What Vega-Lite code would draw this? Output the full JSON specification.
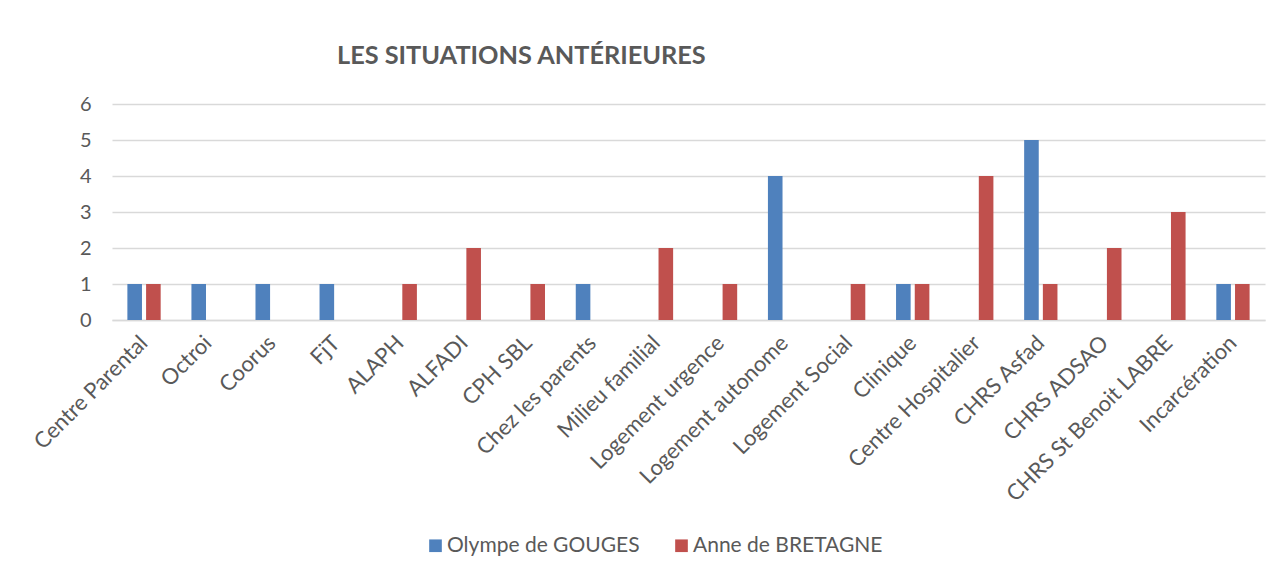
{
  "$schema": "https://vega.github.io/schema/vega-lite/v6.json",
  "autosize": {"type": "none"},
  "width": 1153,
  "height": 216,
  "padding": {"left": 112, "top": 104, "right": 16, "bottom": 255},
  "background": "white",
  "title": {
    "text": "LES SITUATIONS ANTÉRIEURES",
    "anchor": "start",
    "frame": "group",
    "dx": 225,
    "offset": 5,
    "baseline": "alphabetic",
    "font": "Lato",
    "fontSize": 25.3,
    "fontWeight": "bold",
    "color": "#595959"
  },
  "data": {
    "values": [
      {"cat": "Centre Parental", "serie": "Olympe de GOUGES", "n": 1},
      {"cat": "Centre Parental", "serie": "Anne de BRETAGNE", "n": 1},
      {"cat": "Octroi", "serie": "Olympe de GOUGES", "n": 1},
      {"cat": "Octroi", "serie": "Anne de BRETAGNE", "n": 0},
      {"cat": "Coorus", "serie": "Olympe de GOUGES", "n": 1},
      {"cat": "Coorus", "serie": "Anne de BRETAGNE", "n": 0},
      {"cat": "FjT", "serie": "Olympe de GOUGES", "n": 1},
      {"cat": "FjT", "serie": "Anne de BRETAGNE", "n": 0},
      {"cat": "ALAPH", "serie": "Olympe de GOUGES", "n": 0},
      {"cat": "ALAPH", "serie": "Anne de BRETAGNE", "n": 1},
      {"cat": "ALFADI", "serie": "Olympe de GOUGES", "n": 0},
      {"cat": "ALFADI", "serie": "Anne de BRETAGNE", "n": 2},
      {"cat": "CPH SBL", "serie": "Olympe de GOUGES", "n": 0},
      {"cat": "CPH SBL", "serie": "Anne de BRETAGNE", "n": 1},
      {"cat": "Chez les parents", "serie": "Olympe de GOUGES", "n": 1},
      {"cat": "Chez les parents", "serie": "Anne de BRETAGNE", "n": 0},
      {"cat": "Milieu familial", "serie": "Olympe de GOUGES", "n": 0},
      {"cat": "Milieu familial", "serie": "Anne de BRETAGNE", "n": 2},
      {"cat": "Logement urgence", "serie": "Olympe de GOUGES", "n": 0},
      {"cat": "Logement urgence", "serie": "Anne de BRETAGNE", "n": 1},
      {"cat": "Logement autonome", "serie": "Olympe de GOUGES", "n": 4},
      {"cat": "Logement autonome", "serie": "Anne de BRETAGNE", "n": 0},
      {"cat": "Logement Social", "serie": "Olympe de GOUGES", "n": 0},
      {"cat": "Logement Social", "serie": "Anne de BRETAGNE", "n": 1},
      {"cat": "Clinique", "serie": "Olympe de GOUGES", "n": 1},
      {"cat": "Clinique", "serie": "Anne de BRETAGNE", "n": 1},
      {"cat": "Centre Hospitalier", "serie": "Olympe de GOUGES", "n": 0},
      {"cat": "Centre Hospitalier", "serie": "Anne de BRETAGNE", "n": 4},
      {"cat": "CHRS Asfad", "serie": "Olympe de GOUGES", "n": 5},
      {"cat": "CHRS Asfad", "serie": "Anne de BRETAGNE", "n": 1},
      {"cat": "CHRS ADSAO", "serie": "Olympe de GOUGES", "n": 0},
      {"cat": "CHRS ADSAO", "serie": "Anne de BRETAGNE", "n": 2},
      {"cat": "CHRS St Benoit LABRE", "serie": "Olympe de GOUGES", "n": 0},
      {"cat": "CHRS St Benoit LABRE", "serie": "Anne de BRETAGNE", "n": 3},
      {"cat": "Incarcération", "serie": "Olympe de GOUGES", "n": 1},
      {"cat": "Incarcération", "serie": "Anne de BRETAGNE", "n": 1}
    ]
  },
  "mark": {"type": "bar"},
  "encoding": {
    "x": {
      "field": "cat",
      "type": "nominal",
      "sort": null,
      "scale": {"paddingInner": 0.48, "paddingOuter": 0.24},
      "axis": {
        "title": null,
        "labelAngle": -45,
        "labelAlign": "right",
        "labelBaseline": "middle",
        "labelFont": "Lato",
        "labelFontSize": 22,
        "labelColor": "#595959",
        "labelPadding": 19,
        "ticks": false,
        "domainColor": "#d9d9d9",
        "domainWidth": 1.5,
        "labelOverlap": false,
        "labelLimit": 400
      }
    },
    "xOffset": {
      "field": "serie",
      "type": "nominal",
      "sort": ["Olympe de GOUGES", "Anne de BRETAGNE"],
      "scale": {"paddingInner": 0.22}
    },
    "y": {
      "field": "n",
      "type": "quantitative",
      "scale": {"domain": [0, 6]},
      "axis": {
        "title": null,
        "values": [0, 1, 2, 3, 4, 5, 6],
        "domain": false,
        "ticks": false,
        "labelFont": "Lato",
        "labelFontSize": 20,
        "labelColor": "#595959",
        "labelPadding": 21,
        "gridColor": "#d9d9d9",
        "gridWidth": 1.5
      }
    },
    "color": {
      "field": "serie",
      "type": "nominal",
      "sort": ["Olympe de GOUGES", "Anne de BRETAGNE"],
      "scale": {"domain": ["Olympe de GOUGES", "Anne de BRETAGNE"], "range": ["#4F81BD", "#C0504D"]},
      "legend": {
        "title": null,
        "orient": "none",
        "legendX": 313,
        "legendY": 431,
        "direction": "horizontal",
        "symbolType": "square",
        "symbolSize": 160,
        "symbolStrokeWidth": 0,
        "labelFont": "Lato",
        "labelFontSize": 21,
        "labelColor": "#595959",
        "columnPadding": 31,
        "labelOffset": 1,
        "labelLimit": 400
      }
    }
  },
  "config": {"view": {"stroke": null}}
}
